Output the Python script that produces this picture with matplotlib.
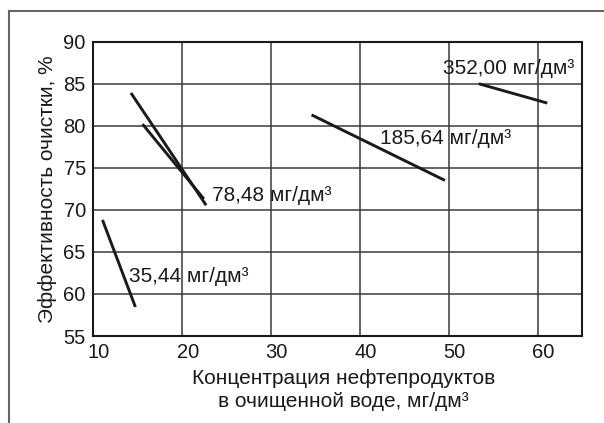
import matplotlib

matplotlib.use("Agg")
import matplotlib.pyplot as plt
from matplotlib.lines import Line2D
from matplotlib.transforms import ScaledTranslation

plt.rcParams["font.family"] = ["Liberation Sans", "DejaVu Sans"]

# each curve: (x0, x1), (y0, y1)
SERIES = ["35,44", "78,48", "78,48", "185,64", "352,00"]
X_ENDS = [(11.1, 14.8), (14.3, 22.75), (15.6, 22.5), (34.6, 49.6), (53.4, 61.1)]
Y_ENDS = [(68.8, 58.45), (83.9, 70.55), (80.2, 71.3), (81.3, 73.5), (85.0, 82.7)]

# label positions (left, baseline) in data units
LABELS = ["35,44 мг/дм³", "78,48 мг/дм³", "185,64 мг/дм³", "352,00 мг/дм³"]
LABEL_X = [14.1, 23.4, 42.3, 49.4]
LABEL_Y = [61.4, 71.05, 77.8, 86.2]

XTICKS = [10, 20, 30, 40, 50, 60]
YTICKS = [55, 60, 65, 70, 75, 80, 85, 90]

W, H = 604, 423
fig = plt.figure(figsize=(W / 100, H / 100), dpi=100)
ax = fig.add_axes([92.7 / W, 1 - 336 / H, (582 - 92.7) / W, (336 - 41.7) / H])

for xs, ys in zip(X_ENDS, Y_ENDS):
    ax.plot(xs, ys, color="#1a1a1a", lw=2.1, solid_capstyle="butt", zorder=3)

for txt, x, y in zip(LABELS, LABEL_X, LABEL_Y):
    ax.text(x, y, txt, fontsize=15, ha="left", va="baseline", color="#1a1a1a", zorder=4)

ax.set_xlim(10, 65)
ax.set_ylim(55, 90)
ax.set_xticks(XTICKS)
ax.set_yticks(YTICKS)
ax.grid(True, color="#3a3a3a", lw=1.1, zorder=1)
ax.set_axisbelow(True)
ax.tick_params(length=0, labelsize=14.5, pad=5, colors="#1a1a1a")
for sp in ax.spines.values():
    sp.set_linewidth(1.5)
    sp.set_color("#1a1a1a")

shift = ScaledTranslation(6 / 100, 0, fig.dpi_scale_trans)
for lab in ax.get_xticklabels():
    lab.set_transform(lab.get_transform() + shift)

ax.set_xlabel("Концентрация нефтепродуктов\nв очищенной воде, мг/дм³", fontsize=15,
              linespacing=1.25, color="#1a1a1a")
ax.xaxis.set_label_coords(0.5126, -0.112)
ax.set_ylabel("Эффективность очистки, %", fontsize=15, color="#1a1a1a")
ax.yaxis.set_label_coords(-0.093, 0.5)
ax.yaxis.label.set_va("center")

# outer frame (top and left edges only)
fig.add_artist(Line2D([9 / W, 9 / W], [0, 1 - 11 / H], color="#666666", lw=1.5))
fig.add_artist(Line2D([9 / W, 1], [1 - 11 / H, 1 - 11 / H], color="#666666", lw=1.5))

fig.savefig("out.png", dpi=100)
